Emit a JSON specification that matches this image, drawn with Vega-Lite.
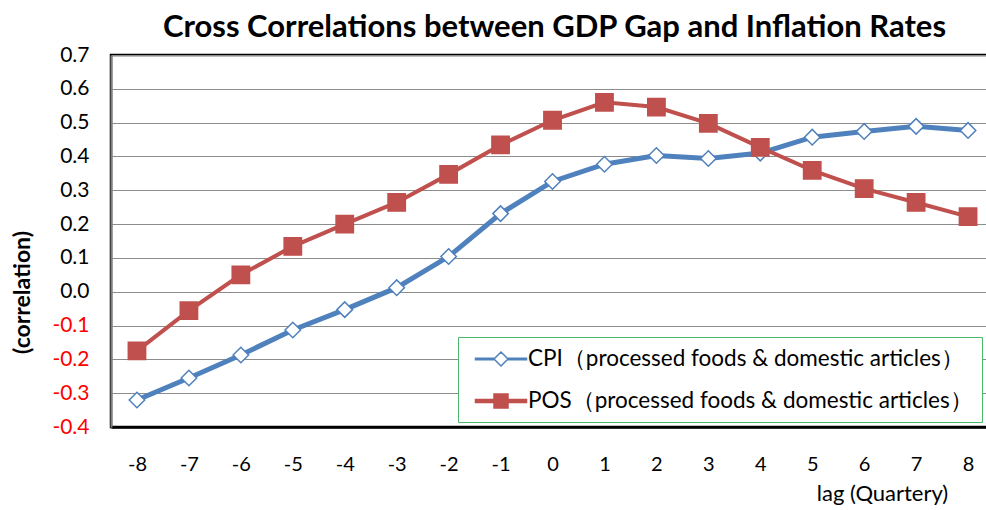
{
  "$schema": "https://vega.github.io/schema/vega-lite/v6.json",
  "autosize": {"type": "none"},
  "padding": {"left": 111, "top": 55, "right": 0, "bottom": 83},
  "width": 877,
  "height": 372,
  "background": "white",
  "title": {
    "text": "Cross Correlations between GDP Gap and Inflation Rates",
    "font": "Lato",
    "fontSize": 31,
    "fontWeight": "bold",
    "color": "black",
    "anchor": "middle",
    "dx": 5,
    "offset": 0
  },
  "config": {
    "view": {"stroke": "black", "strokeWidth": 2.5},
    "font": "Lato"
  },
  "data": {
    "values": [
      {"lag": -8, "series": "CPI（processed foods & domestic articles）", "value": -0.32},
      {"lag": -7, "series": "CPI（processed foods & domestic articles）", "value": -0.255},
      {"lag": -6, "series": "CPI（processed foods & domestic articles）", "value": -0.187},
      {"lag": -5, "series": "CPI（processed foods & domestic articles）", "value": -0.113},
      {"lag": -4, "series": "CPI（processed foods & domestic articles）", "value": -0.053},
      {"lag": -3, "series": "CPI（processed foods & domestic articles）", "value": 0.012},
      {"lag": -2, "series": "CPI（processed foods & domestic articles）", "value": 0.104},
      {"lag": -1, "series": "CPI（processed foods & domestic articles）", "value": 0.231},
      {"lag": 0, "series": "CPI（processed foods & domestic articles）", "value": 0.326},
      {"lag": 1, "series": "CPI（processed foods & domestic articles）", "value": 0.377},
      {"lag": 2, "series": "CPI（processed foods & domestic articles）", "value": 0.403},
      {"lag": 3, "series": "CPI（processed foods & domestic articles）", "value": 0.394},
      {"lag": 4, "series": "CPI（processed foods & domestic articles）", "value": 0.41},
      {"lag": 5, "series": "CPI（processed foods & domestic articles）", "value": 0.457},
      {"lag": 6, "series": "CPI（processed foods & domestic articles）", "value": 0.474},
      {"lag": 7, "series": "CPI（processed foods & domestic articles）", "value": 0.489},
      {"lag": 8, "series": "CPI（processed foods & domestic articles）", "value": 0.477},
      {"lag": -8, "series": "POS（processed foods & domestic articles）", "value": -0.175},
      {"lag": -7, "series": "POS（processed foods & domestic articles）", "value": -0.056},
      {"lag": -6, "series": "POS（processed foods & domestic articles）", "value": 0.05},
      {"lag": -5, "series": "POS（processed foods & domestic articles）", "value": 0.134},
      {"lag": -4, "series": "POS（processed foods & domestic articles）", "value": 0.2},
      {"lag": -3, "series": "POS（processed foods & domestic articles）", "value": 0.264},
      {"lag": -2, "series": "POS（processed foods & domestic articles）", "value": 0.347},
      {"lag": -1, "series": "POS（processed foods & domestic articles）", "value": 0.434},
      {"lag": 0, "series": "POS（processed foods & domestic articles）", "value": 0.507},
      {"lag": 1, "series": "POS（processed foods & domestic articles）", "value": 0.56},
      {"lag": 2, "series": "POS（processed foods & domestic articles）", "value": 0.546},
      {"lag": 3, "series": "POS（processed foods & domestic articles）", "value": 0.498},
      {"lag": 4, "series": "POS（processed foods & domestic articles）", "value": 0.427},
      {"lag": 5, "series": "POS（processed foods & domestic articles）", "value": 0.359},
      {"lag": 6, "series": "POS（processed foods & domestic articles）", "value": 0.305},
      {"lag": 7, "series": "POS（processed foods & domestic articles）", "value": 0.264},
      {"lag": 8, "series": "POS（processed foods & domestic articles）", "value": 0.222}
    ]
  },
  "encoding": {
    "x": {
      "field": "lag",
      "type": "quantitative",
      "scale": {"domain": [-8.5, 8.384], "nice": false, "zero": false},
      "axis": {
        "values": [-8, -7, -6, -5, -4, -3, -2, -1, 0, 1, 2, 3, 4, 5, 6, 7, 8],
        "labelExpr": "'' + datum.value",
        "grid": false,
        "ticks": false,
        "domain": true,
        "domainColor": "black",
        "domainWidth": 2.5,
        "labelFont": "Lato",
        "labelFontSize": 20,
        "labelColor": "black",
        "labelPadding": 27,
        "labelFlush": false,
        "title": "lag (Quartery)",
        "titleFont": "Lato",
        "titleFontSize": 22,
        "titleFontWeight": "normal",
        "titleColor": "black",
        "titleX": 771,
        "titleY": 56,
        "titleAlign": "center"
      }
    },
    "y": {
      "field": "value",
      "type": "quantitative",
      "scale": {"domain": [-0.4, 0.7], "nice": false, "zero": false},
      "axis": {
        "values": [-0.4, -0.3, -0.2, -0.1, 0, 0.1, 0.2, 0.3, 0.4, 0.5, 0.6, 0.7],
        "labelExpr": "replace(format(datum.value, '.1f'), '\u2212', '-')",
        "grid": true,
        "gridColor": "#8c8c8c",
        "gridWidth": 1,
        "ticks": false,
        "domain": true,
        "domainColor": "#808080",
        "domainWidth": 2,
        "labelFont": "Lato",
        "labelFontSize": 21,
        "labelPadding": 22,
        "labelColor": {"condition": {"test": "datum.value < 0", "value": "#ff0000"}, "value": "black"},
        "title": "(correlation)",
        "titleFont": "Lato",
        "titleFontSize": 23,
        "titleFontWeight": "bold",
        "titleColor": "black",
        "titleX": -89,
        "titleY": 237,
        "titleAngle": -90,
        "titleAlign": "center",
        "titleBaseline": "middle"
      }
    }
  },
  "layer": [
    {
      "mark": {"type": "line"},
      "encoding": {
        "detail": {"field": "series", "type": "nominal"},
        "stroke": {
          "condition": {"test": "indexof(datum.series, 'CPI') === 0", "value": "#4f81bd"},
          "value": "#c0504d"
        },
        "strokeWidth": {
          "condition": {"test": "indexof(datum.series, 'CPI') === 0", "value": 5},
          "value": 4
        }
      }
    },
    {
      "mark": {"type": "point", "filled": false, "strokeWidth": 1.5, "opacity": 1},
      "encoding": {
        "shape": {
          "condition": {"test": "indexof(datum.series, 'CPI') === 0", "value": "diamond"},
          "value": "square"
        },
        "fill": {
          "condition": {"test": "indexof(datum.series, 'CPI') === 0", "value": "white"},
          "value": "#c0504d"
        },
        "stroke": {
          "condition": {"test": "indexof(datum.series, 'CPI') === 0", "value": "#4f81bd"},
          "value": "#c0504d"
        },
        "size": {
          "condition": {"test": "indexof(datum.series, 'CPI') === 0", "value": 240},
          "value": 300
        }
      }
    },
    {
      "transform": [{"filter": "false"}],
      "mark": {"type": "point", "filled": true, "strokeWidth": 1.5, "opacity": 1},
      "encoding": {
        "shape": {
          "field": "series",
          "type": "nominal",
          "scale": {
            "domain": ["CPI（processed foods & domestic articles）", "POS（processed foods & domestic articles）"],
            "range": [
              "M-2.125,-0.0625H-0.583V0.0625H-2.125Z M0.583,-0.0625H2.125V0.0625H0.583Z M0,-0.583L0.583,0L0,0.583L-0.583,0Z",
              "M-2.125,-0.125H2.125V0.125H-2.125Z M-0.583,-0.583H0.583V0.583H-0.583Z"
            ]
          },
          "legend": {
            "orient": "none",
            "legendX": 347,
            "legendY": 282,
            "title": null,
            "strokeColor": "#4cb86a",
            "fillColor": "white",
            "padding": 9,
            "symbolSize": 576,
            "symbolOffset": 21,
            "symbolStrokeWidth": 1.5,
            "labelFont": "Lato",
            "labelFontSize": 22.5,
            "labelColor": "black",
            "labelOffset": 14,
            "rowPadding": 17,
            "labelLimit": 700
          }
        },
        "fill": {
          "field": "series",
          "type": "nominal",
          "scale": {
            "domain": ["CPI（processed foods & domestic articles）", "POS（processed foods & domestic articles）"],
            "range": ["white", "#c0504d"]
          }
        },
        "stroke": {
          "field": "series",
          "type": "nominal",
          "scale": {
            "domain": ["CPI（processed foods & domestic articles）", "POS（processed foods & domestic articles）"],
            "range": ["#4f81bd", "#c0504d"]
          }
        }
      }
    }
  ]
}
